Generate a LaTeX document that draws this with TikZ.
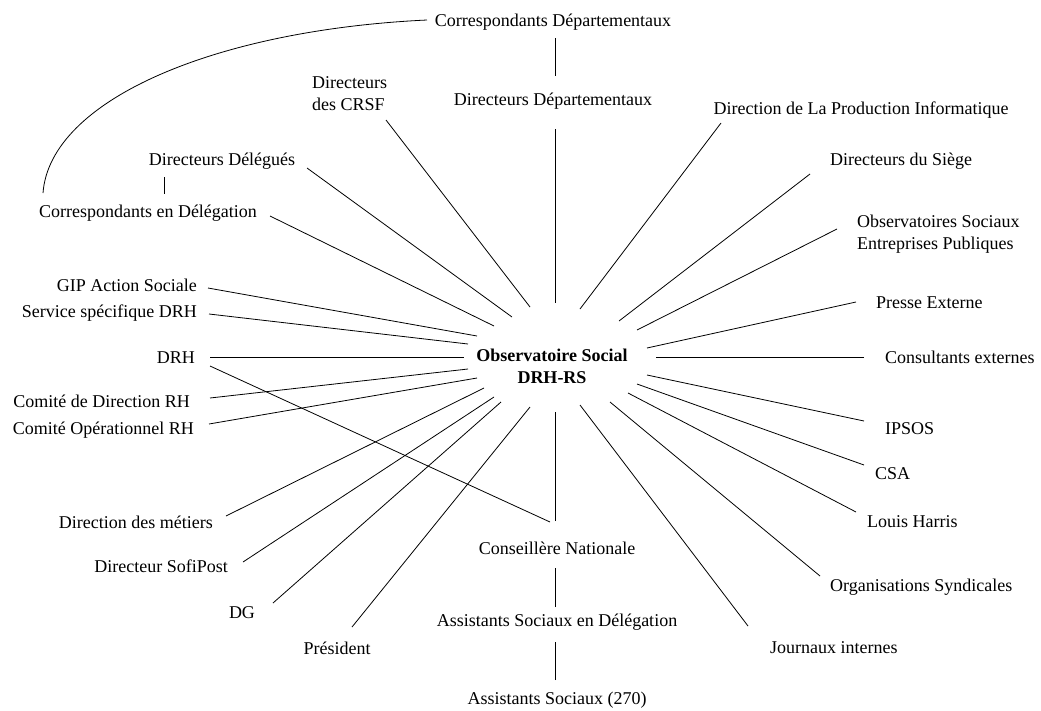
\documentclass[tikz,border=0pt]{standalone}
\usepackage{fontspec}
\setmainfont{Liberation Serif}
\begin{document}
\begin{tikzpicture}[x=1pt,y=-1pt,
  lab/.style={inner sep=0pt,font=\fontsize{18}{22}\selectfont},
  corelab/.style={inner sep=0pt,align=center,font=\fontsize{18}{22}\selectfont\bfseries},
  conn/.style={line width=0.8pt,black}]
\useasboundingbox (0,0) rectangle (1041,710);
% centre
\node[corelab] (core) at (552,366) {Observatoire Social\\DRH-RS};
% top
\node[lab,anchor=base] (cdep) at (553,26) {Correspondants Départementaux};
\node[lab,anchor=base] (ddep) at (553,105) {Directeurs Départementaux};
\node[lab,anchor=north west,align=left] (crsf) at (312,76) {Directeurs\\des CRSF};
\node[lab,anchor=base] (dele) at (222,165) {Directeurs Délégués};
\node[lab,anchor=base] (cdel) at (148,217) {Correspondants en Délégation};
\node[lab,anchor=base] (dpi) at (861,114) {Direction de La Production Informatique};
\node[lab,anchor=base] (dsiege) at (901,165) {Directeurs du Siège};
\node[lab,anchor=north west,align=left] (obs) at (857,215) {Observatoires Sociaux\\Entreprises Publiques};
% right
\node[lab,anchor=base west] (presse) at (876,308) {Presse Externe};
\node[lab,anchor=base west] (consult) at (885,363) {Consultants externes};
\node[lab,anchor=base west] (ipsos) at (885,434) {IPSOS};
\node[lab,anchor=base west] (csa) at (875,479) {CSA};
\node[lab,anchor=base west] (harris) at (867,527) {Louis Harris};
\node[lab,anchor=base west] (orgs) at (830,591) {Organisations Syndicales};
\node[lab,anchor=base west] (journ) at (770,653) {Journaux internes};
% bottom
\node[lab,anchor=base] (cnat) at (557,554) {Conseillère Nationale};
\node[lab,anchor=base] (asdel) at (557,626) {Assistants Sociaux en Délégation};
\node[lab,anchor=base] (as270) at (557,704) {Assistants Sociaux (270)};
\node[lab,anchor=base] (pres) at (337,654) {Président};
\node[lab,anchor=base] (dg) at (242,618) {DG};
\node[lab,anchor=base east] (sofi) at (228,572) {Directeur SofiPost};
\node[lab,anchor=base east] (metiers) at (213,528) {Direction des métiers};
% left
\node[lab,anchor=base east] (comop) at (194,434) {Comité Opérationnel RH};
\node[lab,anchor=base east] (comdir) at (190,407) {Comité de Direction RH};
\node[lab,anchor=base east] (drh) at (195,363) {DRH};
\node[lab,anchor=base east] (serv) at (197,317) {Service spécifique DRH};
\node[lab,anchor=base east] (gip) at (197,291) {GIP Action Sociale};
% connectors (outer end near label, inner end near centre)
\foreach \n/\ox/\oy/\ix/\iy in {
  cdep/555/38/555/76,
  ddep/555/129/555/303,
  crsf/386/120/530/307,
  dele/307/168/512/317,
  deleb/164/177/164/194,
  cdel/270/216/494/326,
  dpi/721/123/580/309,
  dsiege/810/174/619/321,
  obs/837/229/637/330,
  presse/856/302/647/348,
  consult/864/357/656/357,
  ipsos/864/421/647/375,
  csa/864/465/637/384,
  harris/856/512/628/393,
  orgs/820/576/610/402,
  journ/748/626/580/405,
  cnat/555/521/555/412,
  asdel/555/607/555/568,
  as270/555/680/555/642,
  pres/352/627/530/407,
  dg/273/603/501/402,
  sofi/243/562/494/397,
  metiers/226/516/484/388,
  comop/209/424/477/378,
  comdir/210/398/468/369,
  drh/210/357/464/357,
  serv/209/314/468/344,
  gip/208/288/477/336,
  drhcnat/210/366/550/522}{
  \coordinate (\n-o) at (\ox,\oy);
  \coordinate (\n-i) at (\ix,\iy);
  \draw[conn] (\n-o) -- (\n-i);
}
% curve from Correspondants en Délégation to Correspondants Départementaux
\coordinate (curve-a) at (43,193);
\coordinate (curve-b) at (427,20);
\draw[conn] (curve-a) .. controls (50,100) and (215,30) .. (curve-b);
\end{tikzpicture}
\end{document}
